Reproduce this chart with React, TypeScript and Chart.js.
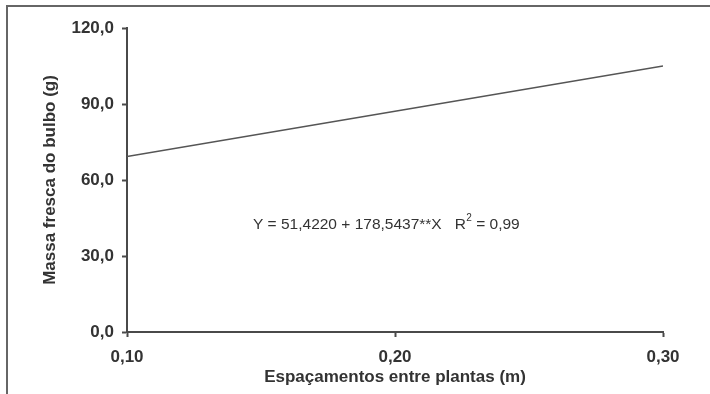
import React, { useEffect, useRef } from "react";
import { Chart, registerables } from "chart.js";

Chart.register(...registerables);

const spacings = [0.1, 0.2, 0.3];
const bulbMass = [69.28, 87.13, 104.99];
const xTicks = [0.1, 0.2, 0.3];
const yTicks = [0, 30, 60, 90, 120];
const equationText = "Y = 51,4220 + 178,5437**X";
const r2Text = " = 0,99";
const equationAt = { x: 0.147, y: 42.4 };
const yTitle = "Massa fresca do bulbo (g)";
const xTitle = "Espaçamentos entre plantas (m)";

const TXT = "#333333";
const AXIS = "#4a4a4a";
const FAM = "'Liberation Sans', Arial, sans-serif";

const overlay = {
  id: "overlay",
  afterDraw(chart: any) {
    const ctx = chart.ctx as CanvasRenderingContext2D;
    const xs = chart.scales.x;
    const ys = chart.scales.y;
    const area = chart.chartArea;
    ctx.save();
    // frame
    ctx.strokeStyle = "#666666";
    ctx.lineWidth = 2;
    ctx.beginPath();
    ctx.moveTo(7, 394);
    ctx.lineTo(7, 6);
    ctx.lineTo(710, 6);
    ctx.stroke();
    // y title
    ctx.fillStyle = TXT;
    ctx.font = `bold 17px ${FAM}`;
    ctx.textAlign = "center";
    ctx.textBaseline = "middle";
    ctx.save();
    ctx.translate(50, 180);
    ctx.rotate(-Math.PI / 2);
    ctx.fillText(yTitle, 0, 0);
    ctx.restore();
    // x title
    ctx.font = `bold 17px ${FAM}`;
    ctx.fillText(xTitle, (area.left + area.right) / 2, 377);
    // equation
    const ex = xs.getPixelForValue(equationAt.x);
    const ey = ys.getPixelForValue(equationAt.y);
    ctx.font = `15.5px ${FAM}`;
    ctx.textAlign = "left";
    ctx.fillText(equationText, ex, ey);
    let cx = ex + ctx.measureText(equationText + "   ").width;
    ctx.fillText("R", cx, ey);
    cx += ctx.measureText("R").width;
    ctx.font = `10px ${FAM}`;
    ctx.fillText("2", cx + 0.5, ey - 6);
    cx += ctx.measureText("2").width + 0.5;
    ctx.font = `15.5px ${FAM}`;
    ctx.fillText(r2Text, cx, ey);
    ctx.restore();
  },
};

export default function App() {
  const ref = useRef<HTMLCanvasElement>(null);
  useEffect(() => {
    const chart = new Chart(ref.current!, {
      type: "line",
      data: {
        datasets: [
          {
            data: spacings.map((x, i) => ({ x, y: bulbMass[i] })),
            borderColor: "#555555",
            borderWidth: 1.5,
            pointRadius: 0,
            fill: false,
            tension: 0,
          },
        ],
      },
      options: {
        animation: false,
        responsive: false,
        maintainAspectRatio: false,
        layout: { padding: { left: 0, top: 28, right: 47, bottom: 0 } },
        plugins: { legend: { display: false }, tooltip: { enabled: false } },
        scales: {
          x: {
            type: "linear",
            min: 0.1,
            max: 0.3,
            afterFit: (s: any) => {
              s.height = 62;
            },
            afterBuildTicks: (s: any) => {
              s.ticks = xTicks.map((v) => ({ value: v }));
            },
            ticks: {
              callback: (v: any) => Number(v).toFixed(2).replace(".", ","),
              color: TXT,
              font: { family: FAM, size: 17, weight: "bold" },
              padding: 10,
              maxRotation: 0,
            },
            grid: {
              drawOnChartArea: false,
              drawTicks: true,
              tickLength: 5,
              tickColor: AXIS,
              tickWidth: 2,
            },
            border: { display: true, color: AXIS, width: 2 },
          },
          y: {
            min: 0,
            max: 120,
            afterFit: (s: any) => {
              s.width = 127;
            },
            afterBuildTicks: (s: any) => {
              s.ticks = yTicks.map((v) => ({ value: v }));
            },
            ticks: {
              callback: (v: any) => Number(v).toFixed(1).replace(".", ","),
              color: TXT,
              font: { family: FAM, size: 17, weight: "bold" },
              padding: 8,
            },
            grid: {
              drawOnChartArea: false,
              drawTicks: true,
              tickLength: 5,
              tickColor: AXIS,
              tickWidth: 2,
            },
            border: { display: true, color: AXIS, width: 2 },
          },
        },
      },
      plugins: [overlay],
    });
    return () => chart.destroy();
  }, []);
  return (
    <div style={{ position: "fixed", left: 0, top: 0, width: 710, height: 394, background: "#fff" }}>
      <canvas ref={ref} width={710} height={394} style={{ width: 710, height: 394, display: "block" }} />
    </div>
  );
}
